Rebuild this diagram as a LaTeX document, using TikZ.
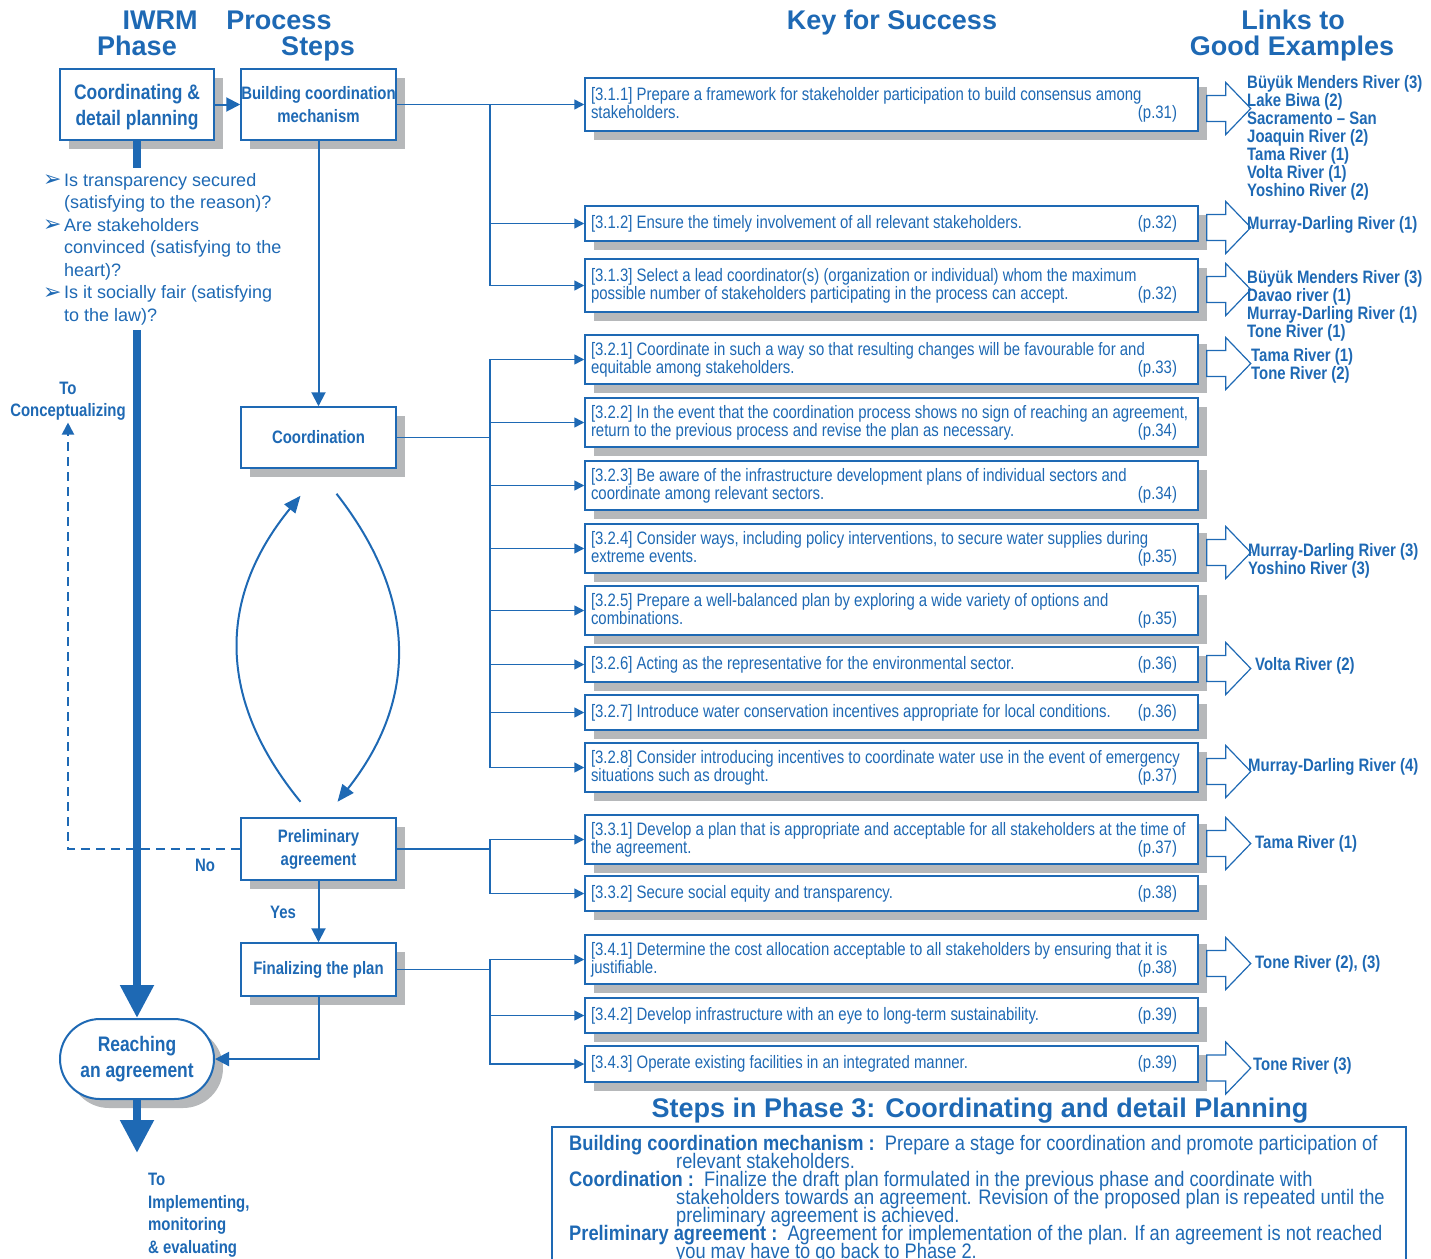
\documentclass[tikz,border=0pt]{standalone}
\usepackage{fontspec}
\setmainfont{Liberation Sans}
\newfontfamily\nar[FakeStretch=0.83]{Liberation Sans}
\newfontfamily\legf[FakeStretch=0.87]{Liberation Sans}
\newfontfamily\dvs{DejaVu Sans}
\usetikzlibrary{arrows.meta,shadows,calc}
\definecolor{iwblue}{RGB}{30,105,180}
\definecolor{shgray}{RGB}{182,184,186}
\newcommand\tightls{\lineskiplimit=-20pt\relax}
\newcommand\kl[1]{\makebox[601pt][l]{#1}}
\newcommand\kp[2]{\makebox[601pt][l]{#1\hfill(p.#2)\hspace*{15pt}}}
\newcommand\blt{\makebox[21pt][l]{\raisebox{-0.5pt}{\dvs\fontsize{22}{22}\selectfont ➢}}}
\newcommand\ind{\hspace*{21pt}}
\tikzset{
 every node/.style={text=iwblue},
 shadowed/.style={drop shadow={shadow xshift=9pt, shadow yshift=-9pt, opacity=1, fill=shgray}},
 phasebox/.style={draw=iwblue, line width=2pt, fill=white, shadowed, minimum width=154pt, align=center, font=\nar\bfseries\fontsize{21}{26}\selectfont, inner sep=0pt},
 procbox/.style={draw=iwblue, line width=1.5pt, fill=white, shadowed, minimum width=155pt, align=center, font=\nar\bfseries\fontsize{18}{23}\selectfont, inner sep=0pt},
 keybox/.style={draw=iwblue, line width=1.5pt, fill=white, shadowed, align=left, inner xsep=6pt, inner ysep=0pt, font=\nar\fontsize{18}{18}\selectfont\tightls},
 lbl/.style={font=\nar\bfseries\fontsize{18}{22.5}\selectfont, align=center, inner sep=2pt},
 link/.style={font=\nar\bfseries\fontsize{18}{18}\selectfont\tightls, align=left, inner sep=0pt, anchor=west},
 head/.style={font=\bfseries\fontsize{27}{27}\selectfont, inner sep=0pt, anchor=base},
 conn/.style={draw=iwblue, line width=1.5pt, -{Triangle[length=10pt,width=10pt]}},
 line/.style={draw=iwblue, line width=1.5pt},
 flow/.style={draw=iwblue, line width=2pt, -{Triangle[length=14pt,width=14pt]}},
 curv/.style={draw=iwblue, line width=2pt, -{Triangle[length=17pt,width=14pt]}},
 fat/.style={draw=iwblue, line width=8pt, -{Triangle[length=33pt,width=32pt]}},
 linkarrow/.pic={\draw[iwblue, line width=1.2pt, fill=white] (0,-13) -- (19,-13) -- (19,-26) -- (44,0) -- (19,26) -- (19,13) -- (0,13) -- cycle;}
}
\begin{document}
\begin{tikzpicture}[x=1pt,y=-1pt]
\useasboundingbox (0,0) rectangle (1431,1258);
% headers
\node[head] (h1) at (160,29) {IWRM};
\node[head] (h2) at (137,55) {Phase};
\node[head] (h3) at (279,29) {Process};
\node[head] (h4) at (318,55) {Steps};
\node[head] (h5) at (892,29) {Key for Success};
\node[head] (h6) at (1293,29) {Links to};
\node[head] (h7) at (1292,55) {Good Examples};
% phase & process boxes
\node[phasebox, minimum height=71pt] (phase) at (137,104.5) {\rule{0pt}{20pt}Coordinating \&\\detail planning};
\node[procbox, minimum height=71pt] (build) at (318.5,104.5) {Building coordination\\mechanism};
\node[procbox, minimum height=61pt] (coord) at (318.5,437.5) {Coordination};
\node[procbox, minimum height=62pt, line width=2.5pt] (prel) at (318.5,849) {Preliminary\\agreement};
\node[procbox, minimum height=53pt] (fin) at (318.5,969.5) {Finalizing the plan};
\node[phasebox, minimum height=80pt, rounded corners=40pt] (reach) at (137,1059) {Reaching\\an agreement};
% labels
\node[lbl] (toconc) at (68,401) {To\\Conceptualizing};
\node[lbl] (no) at (205,865) {No};
\node[lbl] (yes) at (283,912) {Yes};
\node[lbl, align=left, anchor=west] (toimpl) at (146,1215) {To\\Implementing,\\monitoring\\\& evaluating};
\coordinate (implend) at (137,1153);
% dashed return
\draw[iwblue, line width=2pt, dash pattern=on 9pt off 6pt, -{Triangle[length=12pt,width=12pt]}] (prel.west) -| (toconc.south);
% fat phase arrows
\draw[fat] (phase.south) -- (reach.north);
\draw[fat] (reach.south) -- (implend);
% bullet questions
\node[anchor=west, fill=white, inner xsep=2pt, inner ysep=5pt, align=left, font=\fontsize{18}{22.5}\selectfont] (bul) at (41,249)
 {\blt Is transparency secured\\ \ind(satisfying to the reason)?\\ \blt Are stakeholders\\ \ind convinced (satisfying to the\\ \ind heart)?\\ \blt Is it socially fair (satisfying\\ \ind to the law)?};
% process flow
\draw[flow] (phase.east) -- (build.west);
\draw[flow] (build.south) -- (coord.north);
\draw[flow] (prel.south) -- (fin.north);
\draw[flow] (fin.south) |- (reach.east);
\draw[curv] ([xshift=-18pt,yshift=15pt]prel.north) .. controls (217,700) and (217,598) .. ([xshift=-18pt,yshift=-27pt]coord.south);
\draw[curv] ([xshift=18pt,yshift=-25pt]coord.south) .. controls (418,598) and (418,700) .. ([xshift=19pt,yshift=15pt]prel.north);
% key boxes
\node[keybox, minimum height=53pt] (k1) at (891.5,104.5) {\kl{[3.1.1] Prepare a framework for stakeholder participation to build consensus among}\\\kp{stakeholders.}{31}};
\node[keybox, minimum height=35pt] (k2) at (891.5,223.5) {\kp{[3.1.2] Ensure the timely involvement of all relevant stakeholders.}{32}};
\node[keybox, minimum height=53pt] (k3) at (891.5,285.5) {\kl{[3.1.3] Select a lead coordinator(s) (organization or individual) whom the maximum}\\\kp{possible number of stakeholders participating in the process can accept.}{32}};
\node[keybox, minimum height=49pt] (k4) at (891.5,359.5) {\kl{[3.2.1] Coordinate in such a way so that resulting changes will be favourable for and}\\\kp{equitable among stakeholders.}{33}};
\node[keybox, minimum height=49pt] (k5) at (891.5,422.5) {\kl{[3.2.2] In the event that the coordination process shows no sign of reaching an agreement,}\\\kp{return to the previous process and revise the plan as necessary.}{34}};
\node[keybox, minimum height=49pt] (k6) at (891.5,485.5) {\kl{[3.2.3] Be aware of the infrastructure development plans of individual sectors and}\\\kp{coordinate among relevant sectors.}{34}};
\node[keybox, minimum height=49pt] (k7) at (891.5,548.5) {\kl{[3.2.4] Consider ways, including policy interventions, to secure water supplies during}\\\kp{extreme events.}{35}};
\node[keybox, minimum height=49pt] (k8) at (891.5,610.5) {\kl{[3.2.5] Prepare a well-balanced plan by exploring a wide variety of options and}\\\kp{combinations.}{35}};
\node[keybox, minimum height=35pt] (k9) at (891.5,664.5) {\kp{[3.2.6] Acting as the representative for the environmental sector.}{36}};
\node[keybox, minimum height=35pt] (k10) at (891.5,712.5) {\kp{[3.2.7] Introduce water conservation incentives appropriate for local conditions.}{36}};
\node[keybox, minimum height=49pt] (k11) at (891.5,767.5) {\kl{[3.2.8] Consider introducing incentives to coordinate water use in the event of emergency}\\\kp{situations such as drought.}{37}};
\node[keybox, minimum height=49pt] (k12) at (891.5,839.5) {\kl{[3.3.1] Develop a plan that is appropriate and acceptable for all stakeholders at the time of}\\\kp{the agreement.}{37}};
\node[keybox, minimum height=35pt] (k13) at (891.5,893.5) {\kp{[3.3.2] Secure social equity and transparency.}{38}};
\node[keybox, minimum height=49pt] (k14) at (891.5,959.5) {\kl{[3.4.1] Determine the cost allocation acceptable to all stakeholders by ensuring that it is}\\\kp{justifiable.}{38}};
\node[keybox, minimum height=35pt] (k15) at (891.5,1015.5) {\kp{[3.4.2] Develop infrastructure with an eye to long-term sustainability.}{39}};
\node[keybox, minimum height=36pt] (k16) at (891.5,1064) {\kp{[3.4.3] Operate existing facilities in an integrated manner.}{39}};
% connectors to key boxes
\coordinate (b1) at (490,104.5);
\coordinate (b2) at (490,437.5);
\coordinate (b3) at (490,849);
\coordinate (b4) at (490,969.5);
\draw[conn] (build.east) -- (k1.west);
\foreach \k in {k2,k3} \draw[conn] (b1) |- (\k.west);
\draw[line] (coord.east) -- (b2);
\foreach \k in {k4,k5,k6,k7,k8,k9,k10,k11} \draw[conn] (b2) |- (\k.west);
\draw[line] (prel.east) -- (b3);
\foreach \k in {k12,k13} \draw[conn] (b3) |- (\k.west);
\draw[line] (fin.east) -- (b4);
\foreach \k in {k14,k15,k16} \draw[conn] (b4) |- (\k.west);
% link arrows
\foreach \k in {k1,k2,k3,k4,k7,k9,k11,k12,k14,k16} \pic at ($(\k.east)+(8,4)$) {linkarrow};
% links
\node[link] (l1) at (1247,138) {Büyük Menders River (3)\\Lake Biwa (2)\\Sacramento – San\\Joaquin River (2)\\Tama River (1)\\Volta River (1)\\Yoshino River (2)};
\node[link] (l2) at (1247,225) {Murray-Darling River (1)};
\node[link] (l3) at (1247,306) {Büyük Menders River (3)\\Davao river (1)\\Murray-Darling River (1)\\Tone River (1)};
\node[link] (l4) at (1251,366) {Tama River (1)\\Tone River (2)};
\node[link] (l5) at (1248,561) {Murray-Darling River (3)\\Yoshino River (3)};
\node[link] (l6) at (1255,666) {Volta River (2)};
\node[link] (l7) at (1248,767) {Murray-Darling River (4)};
\node[link] (l8) at (1255,844) {Tama River (1)};
\node[link] (l9) at (1255,964) {Tone River (2), (3)};
\node[link] (l10) at (1253,1066) {Tone River (3)};
% legend
\node[font=\bfseries\fontsize{27}{27}\selectfont, inner sep=0pt] (legtitle) at (980,1111) {Steps in Phase 3: Coordinating and detail Planning};
\node[draw=iwblue, line width=1.5pt, minimum width=854pt, minimum height=160pt, anchor=north west, inner sep=0pt] (legbox) at (551,1126) {};
\node[anchor=north west, align=left, inner sep=0pt, font=\legf\fontsize{21}{18}\selectfont\tightls] (legtext) at (569,1135)
 {\textbf{Building coordination mechanism :}\ \ Prepare a stage for coordination and promote participation of\\
 \hspace*{107pt}relevant stakeholders.\\
 \textbf{Coordination :}\ \ Finalize the draft plan formulated in the previous phase and coordinate with\\
 \hspace*{107pt}stakeholders towards an agreement. Revision of the proposed plan is repeated until the\\
 \hspace*{107pt}preliminary agreement is achieved.\\
 \textbf{Preliminary agreement :}\ \ Agreement for implementation of the plan. If an agreement is not reached\\
 \hspace*{107pt}you may have to go back to Phase 2.};
\end{tikzpicture}
\end{document}
